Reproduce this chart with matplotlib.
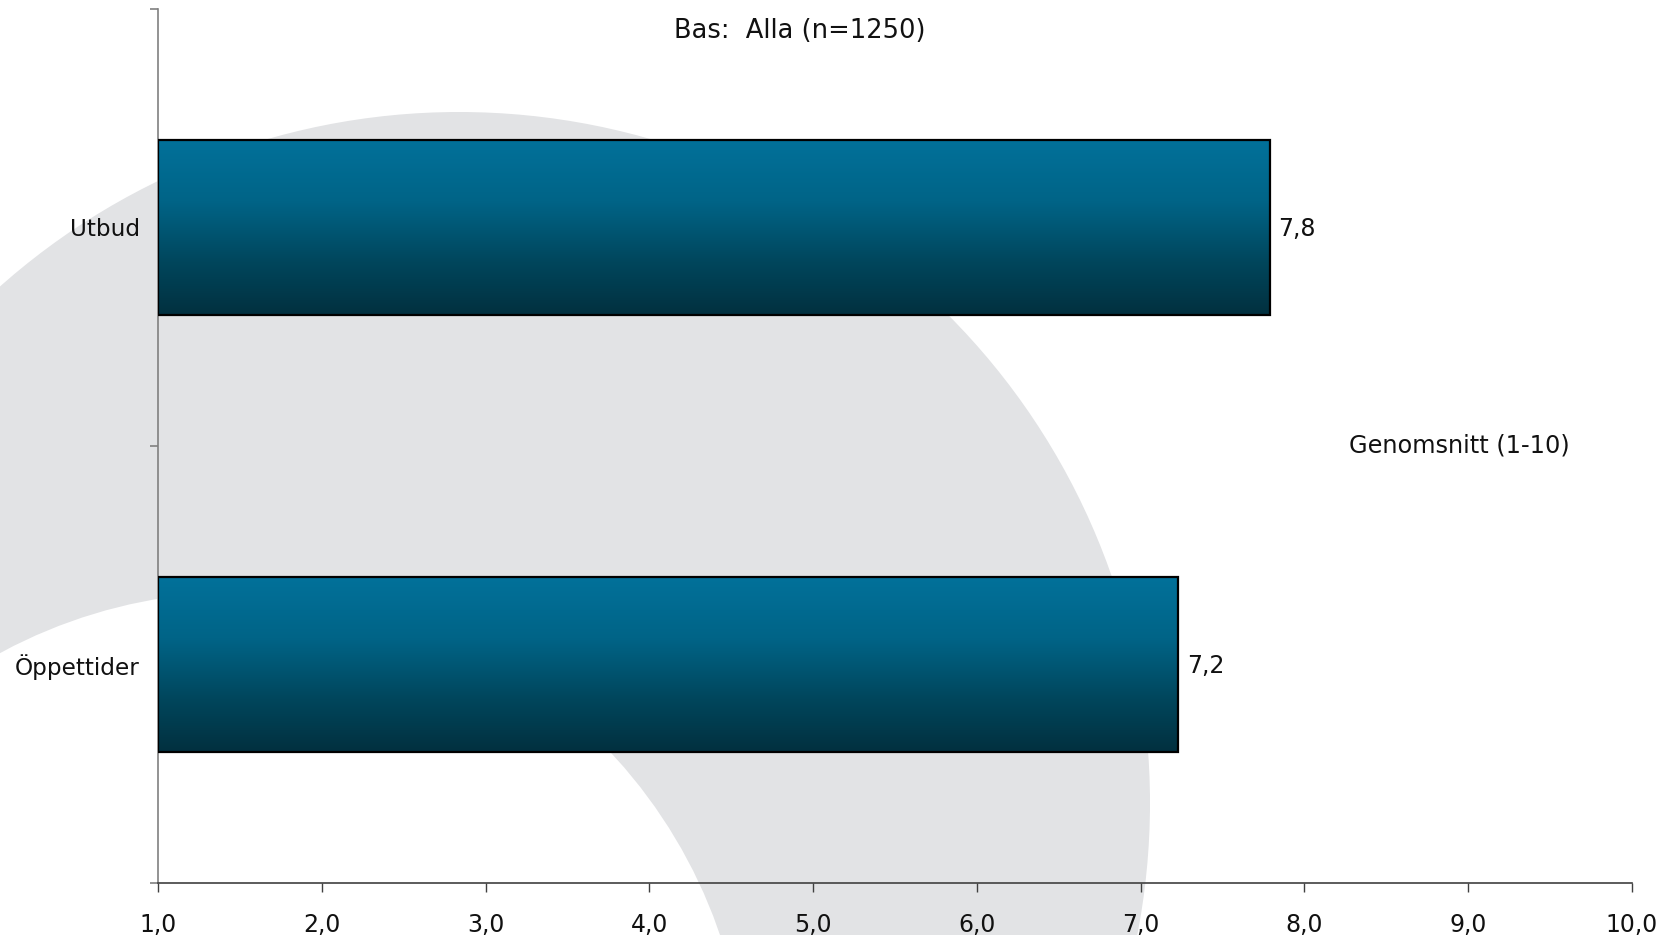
import numpy as np
import matplotlib
matplotlib.use("Agg")
import matplotlib.pyplot as plt
from matplotlib.patches import Circle
from matplotlib.colors import LinearSegmentedColormap

categories = ["Utbud", "Öppettider"]
values = [7.79, 7.23]
x_ticks = [1, 2, 3, 4, 5, 6, 7, 8, 9, 10]
title = "Bas:  Alla (n=1250)"
xlabel = "Genomsnitt (1-10)"

plt.rcParams['font.family'] = ['DejaVu Sans']
W, H = 1676, 935
fig = plt.figure(figsize=(W / 100, H / 100), dpi=100)

# grey watermark ring behind everything
bg = fig.add_axes([0, 0, 1, 1], zorder=-1)
bg.set_xlim(0, W)
bg.set_ylim(H, 0)
bg.axis('off')
bg.add_patch(Circle((459, 803), 691, color='#e2e3e5', lw=0))
bg.add_patch(Circle((241, 1098), 506, color='white', lw=0))

ax = fig.add_axes([158 / W, 1 - 883 / H, (1632 - 158) / W, (883 - 8.5) / H])
ax.patch.set_alpha(0)

cmap = LinearSegmentedColormap.from_list(
    'bar', [(0, '#02719a'), (0.35, '#006487'), (0.7, '#00465c'), (1, '#02303f')])
grad = np.linspace(0, 1, 256).reshape(-1, 1)

pos = np.arange(len(categories))
bars = ax.barh(pos, [v - 1 for v in values], left=1, height=0.4,
               facecolor='none', edgecolor='black', linewidth=1.6, zorder=3)
for b, v, p in zip(bars, values, pos):
    im = ax.imshow(grad, cmap=cmap, aspect='auto', zorder=2,
                   extent=(1, v, p + 0.2, p - 0.2))
    im.set_clip_path(b)
    ax.annotate(f"{v:.1f}".replace('.', ','), (v, p), xytext=(6, -1),
                textcoords='offset points', va='center', ha='left',
                fontsize=17, color='#111111')

ax.set_xlim(1, 10)
ax.set_ylim(1.5, -0.5)
ax.set_xticks(x_ticks, [f"{t:.1f}".replace('.', ',') for t in x_ticks])
ax.set_yticks(pos, categories)
ax.set_yticks([-0.5, 0.5, 1.5], minor=True)
ax.tick_params(axis='y', which='major', length=0, pad=13, labelsize=16.7,
               labelcolor='#111111')
ax.tick_params(axis='y', which='minor', length=6, width=1.2, color='#808080')
ax.tick_params(axis='x', length=6.5, width=1, color='#404040', pad=15,
               labelsize=17, labelcolor='#111111')
for s in ['top', 'right']:
    ax.spines[s].set_visible(False)
ax.spines['left'].set_color('#808080')
ax.spines['left'].set_linewidth(1.2)
ax.spines['bottom'].set_color('#404040')
ax.spines['bottom'].set_linewidth(1.2)

fig.text(800 / W, 1 - 31 / H, title, ha='center', va='center', fontsize=18.5,
         color='#111111')
fig.text(1459 / W, 1 - 445 / H, xlabel, ha='center', va='center', fontsize=17.3,
         color='#111111')

fig.savefig('out.png', dpi=100)
